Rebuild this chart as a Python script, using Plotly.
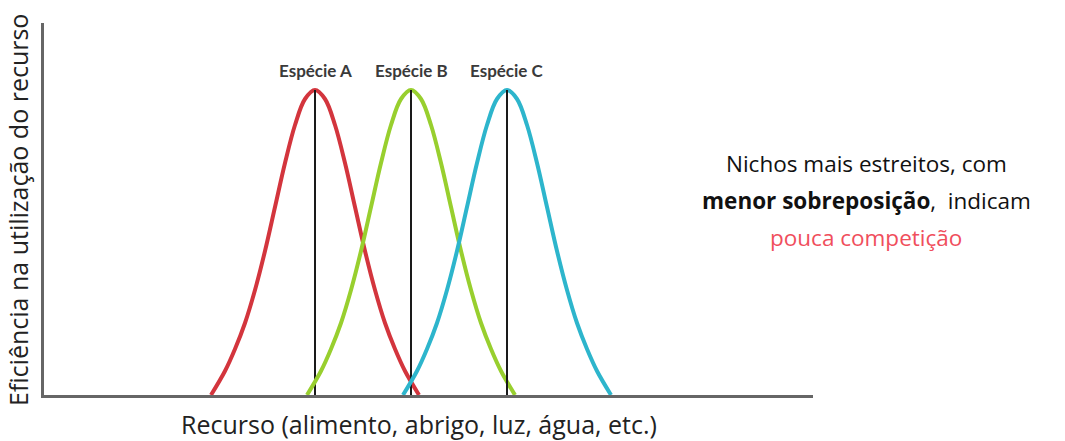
import plotly.graph_objects as go

# Data (x: resource axis units, y: efficiency units)
species = ["Espécie A", "Espécie B", "Espécie C"]
centers = [271, 367, 463]
peak = 305
offsets = [-104, -90, -80, -70, -60, -50, -40, -30, -20, -10, 0,
           10, 20, 30, 40, 50, 60, 70, 80, 90, 104]
heights = [0, 24, 46, 72, 105, 144, 188, 232, 270, 296, 305,
           296, 270, 232, 188, 144, 105, 72, 46, 24, 0]
colors = ["#d3353d", "#98cf2e", "#2db5cc"]

x_title = "Recurso (alimento, abrigo, luz, água, etc.)"
y_title = "Eficiência na utilização do recurso"
note_lines = ["Nichos mais estreitos, com",
              "<b>menor sobreposição</b>,  indicam",
              "<span style='color:#f04e5c'>pouca competição</span>"]

W, H = 1065, 441
L, R, T, B = 44, 252, 23, 46
pw, ph = W - L - R, H - T - B


def px(xp):
    return (xp - L) / pw


def py(yp):
    return (H - B - yp) / ph


fig = go.Figure()
for name, c, col in zip(species, centers, colors):
    fig.add_trace(go.Scatter(
        x=[c + o for o in offsets], y=heights, mode="lines",
        line=dict(color=col, width=4, shape="spline", smoothing=1.0),
        name=name, hoverinfo="skip"))
    fig.add_trace(go.Scatter(
        x=[c, c], y=[0, peak], mode="lines",
        line=dict(color="#1a1a1a", width=2), hoverinfo="skip"))
    fig.add_annotation(x=c, y=peak + 20, text="<b>" + name + "</b>",
                       showarrow=False, yanchor="middle",
                       font=dict(family="Lato", size=17, color="#3a3a3a"))

fig.add_annotation(xref="paper", yref="paper", x=px(-1), y=py(210),
                   text=y_title, textangle=-90, showarrow=False,
                   font=dict(family="Open Sans", size=25, color="#222222"))
fig.add_annotation(xref="paper", yref="paper", x=px(419), y=py(424),
                   yanchor="middle", text=x_title, showarrow=False,
                   font=dict(family="Open Sans", size=25, color="#222222"))
for line, yp in zip(note_lines, [163, 200, 238]):
    fig.add_annotation(xref="paper", yref="paper", x=px(866), y=py(yp),
                       xanchor="center", yanchor="middle", text=line,
                       showarrow=False,
                       font=dict(family="Open Sans", size=22.5, color="#111111"))

fig.update_layout(
    width=W, height=H,
    margin=dict(l=L, r=R, t=T, b=B),
    paper_bgcolor="white", plot_bgcolor="white",
    showlegend=False,
    xaxis=dict(range=[0, 769], showgrid=False, zeroline=False, showticklabels=False,
               showline=True, linecolor="#666666", linewidth=2.5, ticks=""),
    yaxis=dict(range=[0, 372], showgrid=False, zeroline=False, showticklabels=False,
               showline=True, linecolor="#666666", linewidth=2.5, ticks=""),
)
fig.write_html("out.html", config={"displayModeBar": False},
               post_script="document.body.style.margin='0';document.body.style.padding='0';")
